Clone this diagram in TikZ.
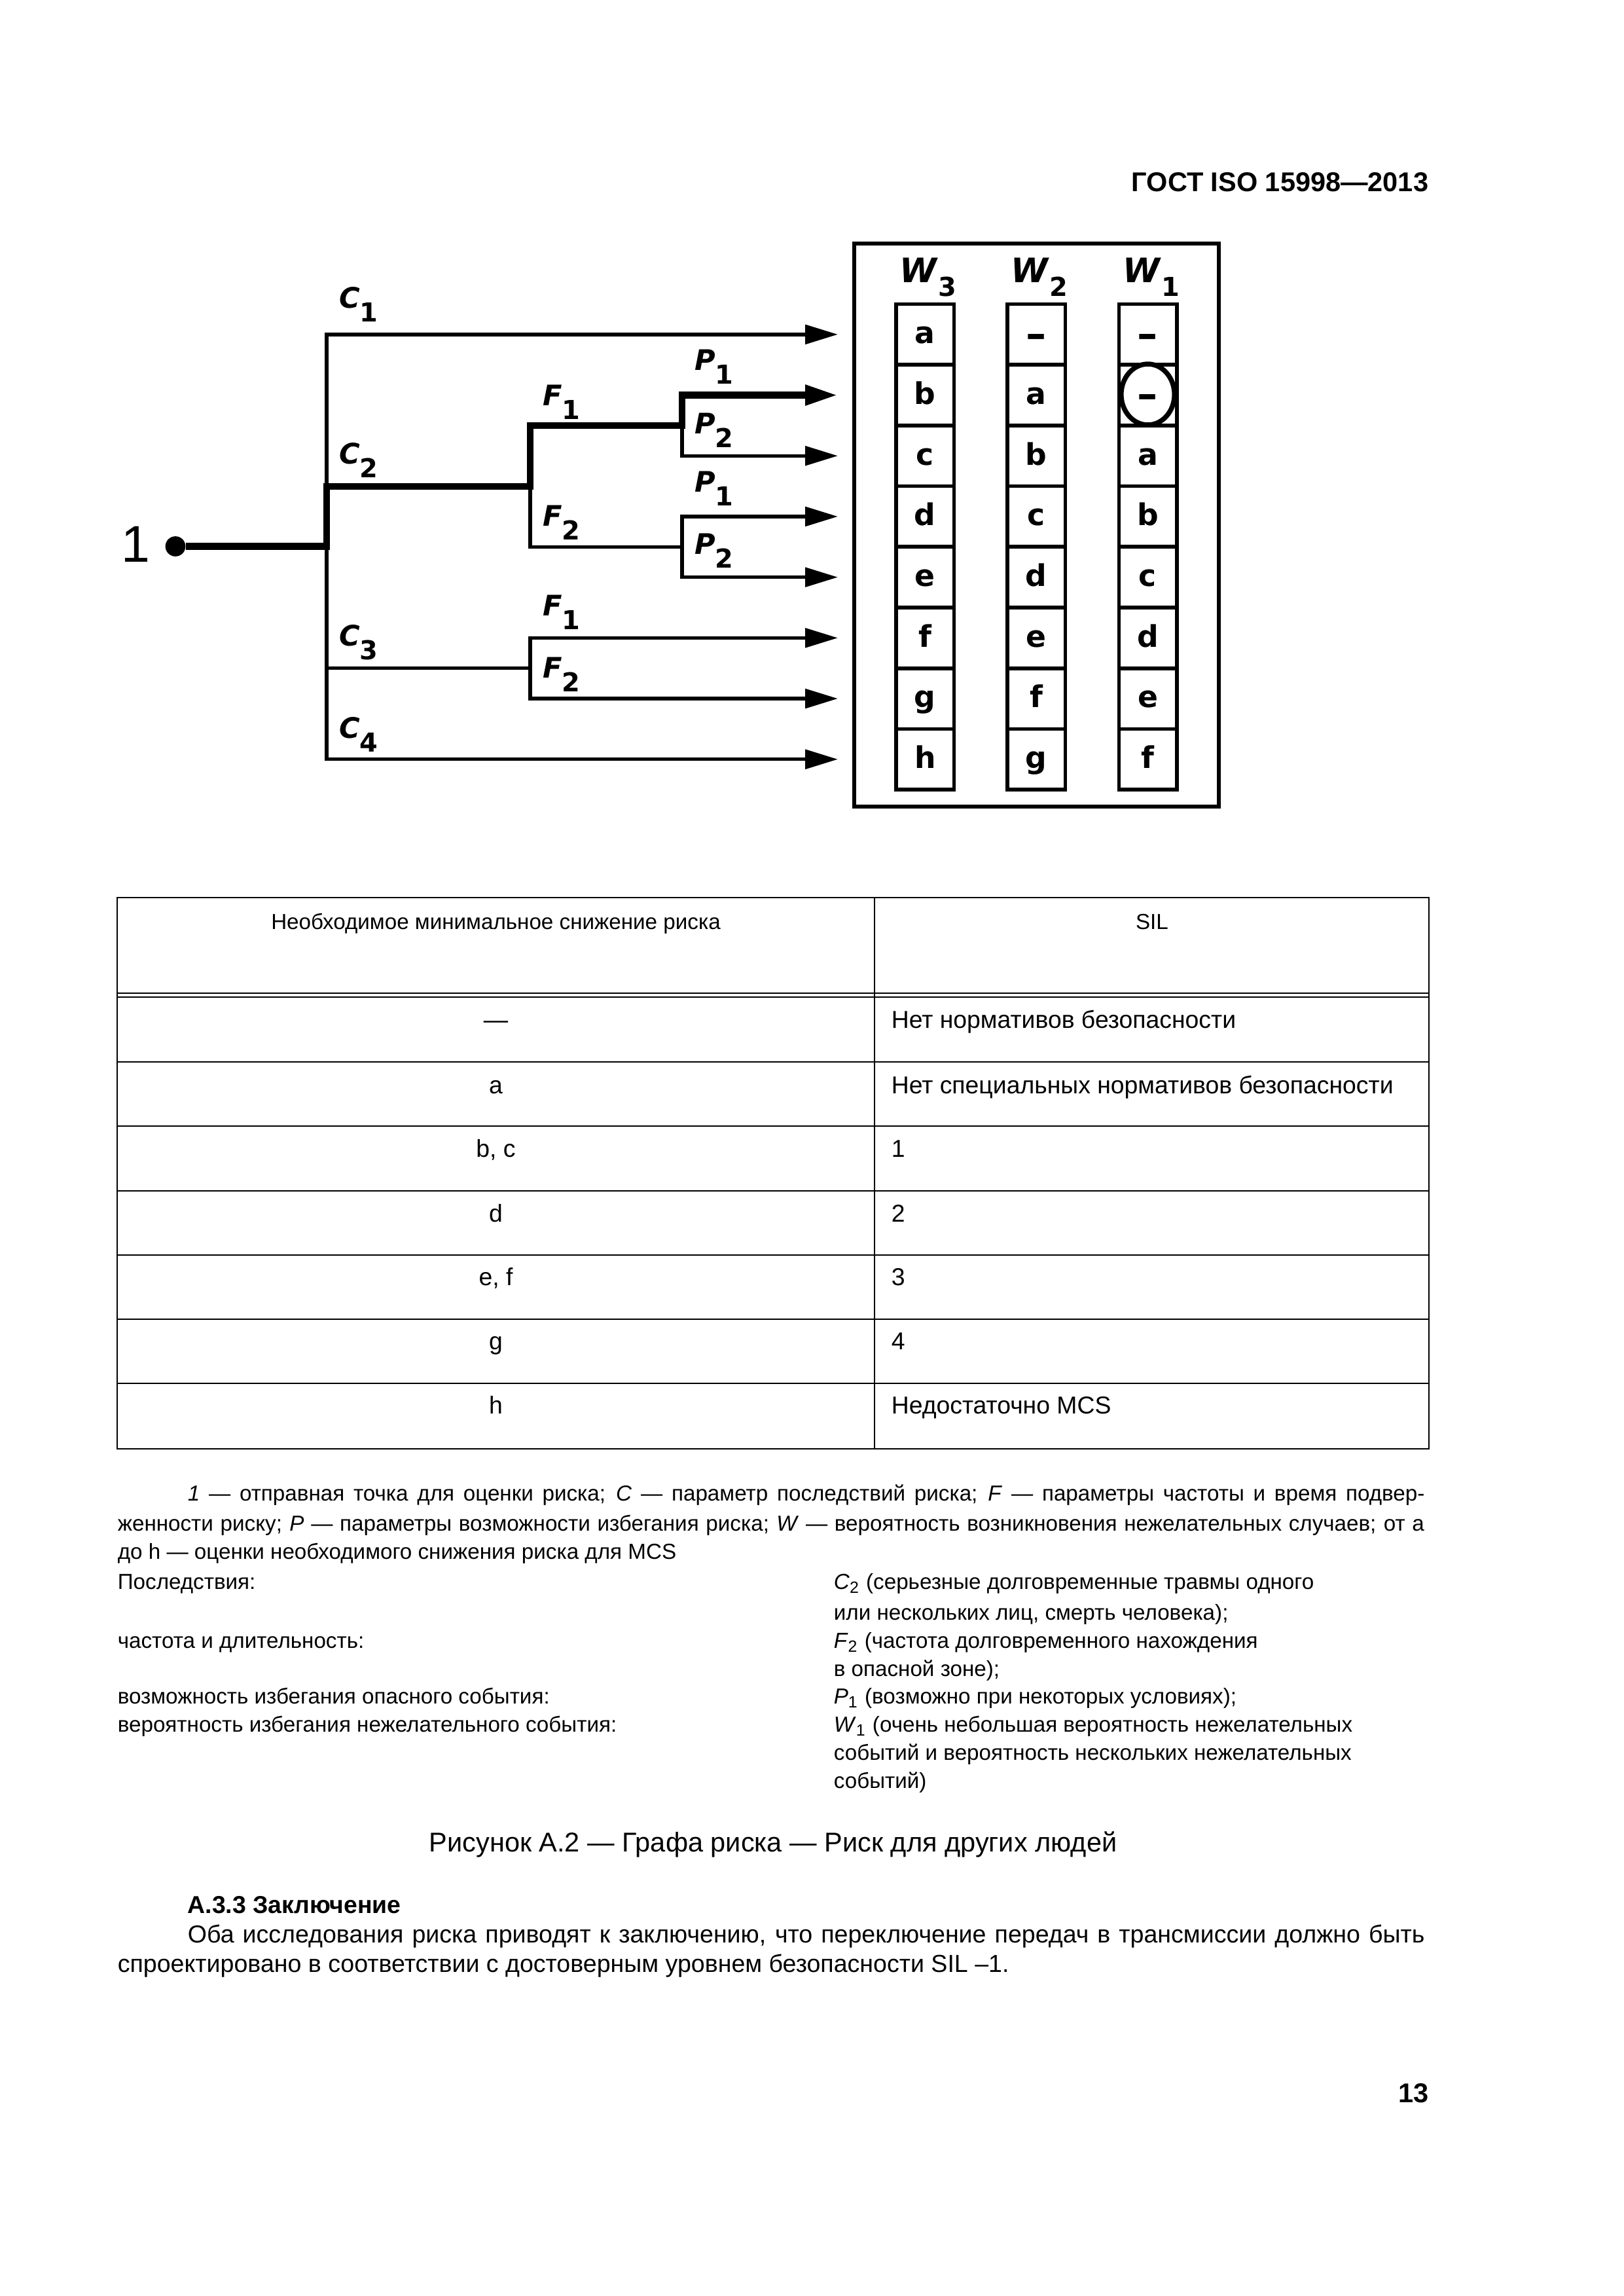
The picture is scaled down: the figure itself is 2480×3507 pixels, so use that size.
\documentclass[tikz,border=0pt]{standalone}
\usepackage{fontspec}
\setmainfont{Liberation Sans}
\newfontfamily\gfont{DejaVu Sans}
\usepackage{tikz}
\usetikzlibrary{arrows.meta, shapes.geometric}

\newcommand{\glab}[2]{\textbf{\textit{#1}}\raisebox{-5pt}{\fontsize{9.6}{10}\selectfont\bfseries #2}}
\newcommand{\cdash}{\raisebox{-1.6pt}{\fontsize{15}{15}\selectfont –}}

\begin{document}
\begin{tikzpicture}[x=0.08468mm, y=-0.08468mm,
    thinline/.style={line width=1.3pt, line cap=rect},
    thickline/.style={line width=2.6pt},
    tip/.style={-{Triangle[length=12pt, width=7pt]}},
    cell/.style={draw, line width=1.3pt, minimum width=21.36pt, minimum height=22.25pt,
      inner sep=0pt, text height=8pt, text depth=1.3pt, font=\gfont\fontsize{11}{12}\selectfont\bfseries},
    glabel/.style={inner sep=0pt, font=\gfont\fontsize{10.4}{12}\selectfont},
    tline/.style={line width=0.6pt},
    thead/.style={inner sep=0pt, anchor=mid, font=\fontsize{8}{10}\selectfont},
    tcell/.style={inner sep=0pt, font=\fontsize{9}{11}\selectfont},
    note/.style={inner sep=0pt, anchor=mid west, font=\fontsize{8}{10}\selectfont},
    txt/.style={inner sep=0pt, anchor=mid west, font=\fontsize{9.05}{11}\selectfont}]
  \useasboundingbox (0,0) rectangle (2480,3507);

  % page head
  \node[inner sep=0pt, anchor=base east, font=\fontsize{10}{12}\selectfont\bfseries] (head) at (2183,292.5) {ГОСТ ISO 15998—2013};

  % risk graph
  \node[inner sep=0pt, font=\fontsize{19}{20}\selectfont] (one) at (207.5,831.5) {1};
  \node[circle, fill, inner sep=0pt, minimum size=7.4pt] (dot) at (268,834.5) {};
  \foreach \k in {1,...,8}
    \coordinate (e\k) at (1280,{510.85+92.7*(\k-1)});
  \coordinate (c1) at (499,510.85);
  \coordinate (c2) at (499,742.9);
  \coordinate (c3) at (499,1020.7);
  \coordinate (c4) at (499,1159.75);
  \coordinate (f1) at (810,649.9);
  \coordinate (f2) at (810,835.3);
  \coordinate (g1) at (810,974.35);
  \coordinate (g2) at (810,1067.05);
  \coordinate (p1) at (1042,603.55);
  \coordinate (p2) at (1042,696.25);
  \coordinate (q1) at (1042,788.95);
  \coordinate (q2) at (1042,881.65);

  \draw[thinline] (c1) -- (c4);
  \draw[thinline, tip] (c1) -- (e1);
  \draw[thinline] (f1) -- (f2) -- (f2 -| q1);
  \draw[thinline] (p1) -- (p2);
  \draw[thinline] (q1) -- (q2);
  \draw[thinline, tip] (p2) -- (e3);
  \draw[thinline, tip] (q1) -- (e4);
  \draw[thinline, tip] (q2) -- (e5);
  \draw[thinline] (c3) -- (c3 -| g1);
  \draw[thinline] (g1) -- (g2);
  \draw[thinline, tip] (g1) -- (e6);
  \draw[thinline, tip] (g2) -- (e7);
  \draw[thinline, tip] (c4) -- (e8);
  \draw[thickline, tip] (dot) -- (dot -| c2) -- (c2) -- (c2 -| f1) -- (f1) -- (f1 -| p1) -- (p1) -- (e2);

  \node[glabel] (lc1) at (548,465) {\glab{C}{1}};
  \node[glabel] (lc2) at (548,703) {\glab{C}{2}};
  \node[glabel] (lc3) at (548,981) {\glab{C}{3}};
  \node[glabel] (lc4) at (548,1122) {\glab{C}{4}};
  \node[glabel] (lf1) at (858,614) {\glab{F}{1}};
  \node[glabel] (lf2) at (858,798) {\glab{F}{2}};
  \node[glabel] (lg1) at (858,935) {\glab{F}{1}};
  \node[glabel] (lg2) at (858,1030) {\glab{F}{2}};
  \node[glabel] (lp1) at (1091,560) {\glab{P}{1}};
  \node[glabel] (lp2) at (1091,657) {\glab{P}{2}};
  \node[glabel] (lq1) at (1091,746) {\glab{P}{1}};
  \node[glabel] (lq2) at (1091,841) {\glab{P}{2}};

  % W columns
  \draw[line width=1.4pt] (1305,372) rectangle (1862,1232);
  \foreach \c/\cx/\items in {3/1413.25/{a,b,c,d,e,f,g,h}, 2/1583.25/{\cdash,a,b,c,d,e,f,g}, 1/1753.5/{\cdash,{},a,b,c,d,e,f}} {
    \node[glabel, font=\gfont\fontsize{12.4}{13}\selectfont] (h\c) at (\cx+5,423.5) {\glab{W}{\c}};
    \foreach \t [count=\r] in \items
      \node[cell] (w\c-\r) at (\cx,{510.85+92.7*(\r-1)}) {\t};
  }
  \node[draw, ellipse, line width=1.8pt, fill=white, minimum width=19.6pt, minimum height=22.4pt,
    inner sep=0pt, text height=8pt, text depth=1.3pt, font=\gfont\fontsize{11}{12}\selectfont\bfseries] (ring) at (1753.5,602.5) {\cdash};

  % table
  \draw[tline] (179,1371) rectangle (2183,2213);
  \draw[tline] (1336,1371) -- (1336,2213);
  \draw[tline] (179,1517) -- (2183,1517);
  \draw[tline] (179,1523) -- (2183,1523);
  \foreach \y in {1622,1720,1819,1917,2015,2113}
    \draw[tline] (179,\y) -- (2183,\y);
  \node[thead] (th1) at (757.5,1409) {Необходимое минимальное снижение риска};
  \node[thead] (th2) at (1760,1409) {SIL};
  \foreach \y/\l/\r [count=\i] in {1560/—/Нет нормативов безопасности, 1660/a/Нет специальных нормативов безопасности,
      1757/{b, c}/1, 1856/d/2, 1953/{e, f}/3, 2051/g/4, 2149/h/Недостаточно MCS} {
    \node[tcell, anchor=mid] (tl\i) at (757.5,\y) {\l};
    \node[tcell, anchor=mid west] (tr\i) at (1361,\y) {\r};
  }

  % key
  \node[note] (k1) at (286,2282) {\makebox[455.3pt][s]{\textit{1} — отправная точка для оценки риска; \textit{C} — параметр последствий риска; \textit{F} — параметры частоты и время подвер-}};
  \node[note] (k2) at (179,2328) {\makebox[481pt][s]{женности риску; \textit{P} — параметры возможности избегания риска; \textit{W} — вероятность возникновения нежелательных случаев; от а}};
  \node[note] (k3) at (179,2371) {до h — оценки необходимого снижения риска для MCS};
  \foreach \y/\t [count=\i] in {2417/Последствия:, 2507/частота и длительность:,
      2592/возможность избегания опасного события:, 2635/вероятность избегания нежелательного события:}
    \node[note] (kl\i) at (179,\y) {\t};
  \foreach \y/\t [count=\i] in {2417/{\textit{C}\textsubscript{2} (серьезные долговременные травмы одного},
      2464/{или нескольких лиц, смерть человека);},
      2507/{\textit{F}\textsubscript{2} (частота долговременного нахождения},
      2550/{в опасной зоне);},
      2592/{\textit{P}\textsubscript{1} (возможно при некоторых условиях);},
      2635/{\textit{W}\textsubscript{1} (очень небольшая вероятность нежелательных},
      2678/{событий и вероятность нескольких нежелательных},
      2721/{событий)}}
    \node[note] (kr\i) at (1273,\y) {\t};

  % caption and text
  \node[inner sep=0pt, anchor=mid, font=\fontsize{10}{12}\selectfont] (cap) at (1181,2818) {Рисунок А.2 — Графа риска — Риск для других людей};
  \node[txt, font=\fontsize{9}{11}\selectfont\bfseries] (sec) at (286,2912) {А.3.3 Заключение};
  \node[txt] (par1) at (286,2956) {\makebox[455.3pt][s]{Оба исследования риска приводят к заключению, что переключение передач в трансмиссии должно быть}};
  \node[txt] (par2) at (179,3001) {спроектировано в соответствии с достоверным уровнем безопасности SIL –1.};
  \node[inner sep=0pt, anchor=base east, font=\fontsize{10}{12}\selectfont\bfseries] (pg) at (2183,3211) {13};
\end{tikzpicture}
\end{document}
